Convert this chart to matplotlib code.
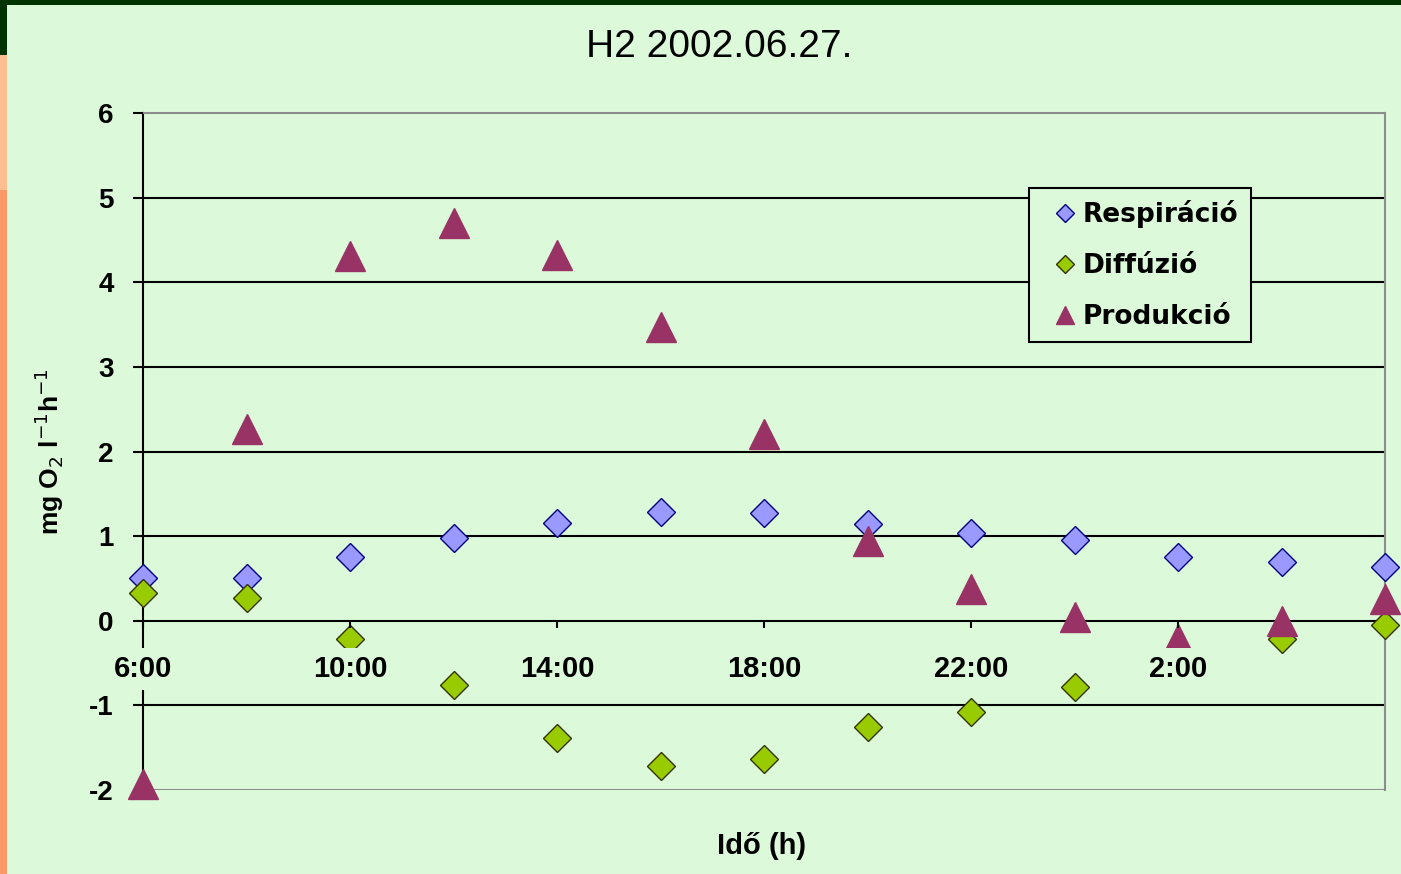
import matplotlib.pyplot as plt
from matplotlib.patches import Rectangle

# chart data
hours = ['6:00', '8:00', '10:00', '12:00', '14:00', '16:00', '18:00',
         '20:00', '22:00', '0:00', '2:00', '4:00', '6:00']
respiracio = [0.51, 0.51, 0.75, 0.98, 1.15, 1.29, 1.27, 1.14, 1.04, 0.95, 0.75, 0.70, 0.64]
diffuzio = [0.33, 0.27, -0.22, -0.76, -1.38, -1.72, -1.63, -1.25, -1.08, -0.78, -0.55, -0.21, -0.05]
produkcio = [-1.93, 2.26, 4.31, 4.70, 4.32, 3.47, 2.21, 0.94, 0.37, 0.04, -0.21, 0.00, 0.26]
yticks = [-2, -1, 0, 1, 2, 3, 4, 5, 6]

bg = '#dcfad9'
plt.rcParams['font.family'] = ['Liberation Sans', 'DejaVu Sans']

fig = plt.figure(figsize=(14.01, 8.74), dpi=100, facecolor=bg)

# slide decoration around the chart
fig.patches.append(Rectangle((0, 1 - 5/874), 1, 5/874, transform=fig.transFigure,
                             facecolor='#003300', edgecolor='none'))
fig.patches.append(Rectangle((0, 1 - 55/874), 7/1401, 55/874, transform=fig.transFigure,
                             facecolor='#003300', edgecolor='none'))
fig.patches.append(Rectangle((0, 1 - 190/874), 7/1401, 135/874, transform=fig.transFigure,
                             facecolor='#fdbf8f', edgecolor='none'))
fig.patches.append(Rectangle((0, 0), 7/1401, 1 - 190/874, transform=fig.transFigure,
                             facecolor='#fb9a68', edgecolor='none'))

ax = fig.add_axes([143/1401, 1 - 790/874, 1242/1401, 677/874])
ax.set_facecolor(bg)
x = list(range(len(hours)))

ax.plot(x, respiracio, linestyle='none', marker='D', ms=14.5, mfc='#9999ff',
        mec='#000080', mew=1, clip_on=False, zorder=2, label='Respiráció')
ax.plot(x, diffuzio, linestyle='none', marker='D', ms=14.5, mfc='#99cc00',
        mec='#333300', mew=1, clip_on=False, zorder=2, label='Diffúzió')
ax.plot(x, produkcio, linestyle='none', marker='^', ms=21, mfc='#993366',
        mec='#993366', mew=1, clip_on=False, zorder=2, label='Produkció')

ax.set_xlim(0, 12)
ax.set_ylim(-2, 6)

# gridlines
for v in [-1, 1, 2, 3, 4, 5]:
    ax.axhline(v, color='black', lw=1.5, zorder=1)
ax.axhline(-2, color='#8c8c8c', lw=1.5, zorder=1)

for s in ['top', 'right']:
    ax.spines[s].set_color('#8c8c8c')
    ax.spines[s].set_linewidth(1.5)
    ax.spines[s].set_zorder(1)
ax.spines['left'].set_color('black')
ax.spines['left'].set_linewidth(1.5)
ax.spines['left'].set_zorder(1)
ax.spines['bottom'].set_position(('data', 0))
ax.spines['bottom'].set_color('black')
ax.spines['bottom'].set_linewidth(1.5)
ax.spines['bottom'].set_zorder(1)

ax.set_yticks(yticks)
ax.set_yticklabels([str(v) for v in yticks])
ax.set_xticks(x[0:11:2])
ax.set_xticklabels(hours[0:11:2])
ax.tick_params(axis='y', direction='out', length=7, width=1.5, pad=14,
               labelsize=20)
ax.tick_params(axis='x', direction='out', length=5, width=1.5, pad=20,
               labelsize=21)
for lbl in ax.get_xticklabels() + ax.get_yticklabels():
    lbl.set_fontweight('bold')
for lbl in ax.get_xticklabels():
    lbl.set_bbox(dict(facecolor=bg, edgecolor='none', pad=5))
# category labels sit on top of the markers
ax.xaxis.set_zorder(3)
ax.yaxis.set_zorder(1.5)

ax.set_ylabel(r'mg O$_2$ l$^{-1}$h$^{-1}$', fontsize=19, fontweight='bold')
ax.yaxis.set_label_coords(-0.062, 0.5)

fig.text(719/1401, 1 - 47/874, 'H2 2002.06.27.', fontsize=28,
         ha='center', va='center')
fig.text(762/1401, 1 - 846/874, 'Idő (h)', fontsize=21, fontweight='bold',
         ha='center', va='center')

leg = ax.legend(loc='upper left', bbox_to_anchor=(1029/1401, 1 - 188/874),
                bbox_transform=fig.transFigure, borderaxespad=0,
                prop={'family': 'DejaVu Sans', 'weight': 'bold', 'size': 19},
                markerscale=0.6, handlelength=1.8, handletextpad=-0.2,
                labelspacing=0.95, borderpad=0.45, fancybox=False, framealpha=1,
                facecolor=bg, edgecolor='black')
leg.get_frame().set_linewidth(1.5)
leg.set_zorder(4)

fig.savefig('out.png', dpi=100, facecolor=bg)
